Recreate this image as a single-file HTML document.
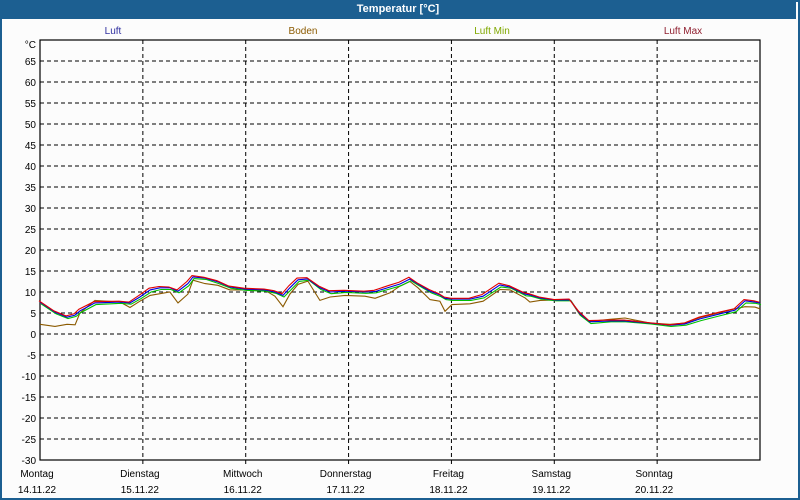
<!DOCTYPE html>
<html><head><meta charset="utf-8"><style>
body{margin:0;width:800px;height:500px;overflow:hidden;background:#fff;font-family:"Liberation Sans",sans-serif}
#wrap{position:absolute;left:0;top:0;width:796px;height:496px;border:2px solid #1c5f91;background:#fcfcfc}
#title{position:absolute;left:0;top:0;width:796px;height:19px;background:#1c5f91;color:#fff;font-weight:bold;font-size:11px;text-align:center;line-height:18px}
svg{position:absolute;left:0;top:0}
text{font-size:10px;font-family:"Liberation Sans",sans-serif}
</style></head><body>
<div id="wrap"></div>
<div id="title">Temperatur [°C]</div>
<svg id="chart" width="800" height="500"></svg>
<script>
const hours=[0,3.5,6.3,8.2,9.3,12.8,18.7,21,23.3,25.7,28,30.3,32.2,34.5,35.7,38.5,41.5,44.3,47.8,52.5,54.8,56.7,58.3,60.2,62.5,65.3,67.7,71.2,75.8,78.2,81.7,84,86.3,88.2,91,93.3,94.5,96.1,100.3,103.4,107.3,109.7,113.2,114.3,116.7,120.2,123.7,126,128.3,133,136.5,142.3,147,150.5,154,158.7,162.2,164.5,166.8,168];
const luft=[7.6,5.2,4.0,4.5,5.5,7.4,7.6,7.4,8.8,10.5,11,11,10.2,12,13.6,13.3,12.4,11.2,10.7,10.5,10,9.2,11,12.9,13.1,11,10,10.2,10,10.1,11.2,11.9,13.1,11.9,10.2,9.3,8.5,8.3,8.3,9.0,11.7,11.2,9.5,9.3,8.6,8.1,8.1,4.8,2.9,3.1,3.1,2.6,2.1,2.4,3.6,4.8,5.7,7.9,7.6,7.4];
const boden=[2.3,1.8,2.3,2.2,5.0,8.0,7.6,6.3,7.8,9.2,9.6,10,7.4,9.5,12.8,12,11.6,10.5,10.5,10.4,9,6.5,9.5,11.8,12.6,8,8.8,9.2,9.0,8.5,9.8,11.4,12.5,11,8.2,7.8,5.4,7.0,7.2,7.8,10.6,10.5,8.6,7.6,8.0,8.1,8.1,4.5,3.0,3.5,3.8,2.6,2.3,2.6,3.9,5.1,6.0,6.5,6.4,6.0];
const luftMin=[7.2,4.8,3.7,4.2,5.1,7.0,7.3,7.1,8.4,10.0,10.6,10.6,9.8,11.5,13.2,13.0,12.0,10.9,10.4,10.2,9.7,8.8,10.5,12.5,12.8,10.6,9.6,9.9,9.7,9.8,10.8,11.5,12.7,11.5,9.8,8.9,8.2,8.0,8.0,8.6,11.2,10.9,9.1,9.0,8.3,7.9,7.9,4.3,2.5,2.9,2.9,2.4,1.8,2.1,3.2,4.4,5.3,7.4,7.3,7.0];
const luftMax=[7.9,5.5,4.3,4.8,5.9,7.7,7.8,7.6,9.2,10.9,11.3,11.2,10.5,12.5,13.9,13.5,12.7,11.4,10.9,10.7,10.3,9.6,11.5,13.3,13.4,11.4,10.3,10.4,10.2,10.4,11.6,12.3,13.5,12.2,10.6,9.6,8.8,8.5,8.5,9.4,12.1,11.5,9.8,9.6,8.8,8.2,8.3,5.3,3.2,3.3,3.3,2.7,2.2,2.6,4.0,5.2,6.0,8.2,7.9,7.6];
const yTicks=[65,60,55,50,45,40,35,30,25,20,15,10,5,0,-5,-10,-15,-20,-25,-30];
const dayNames=["Montag","Dienstag","Mittwoch","Donnerstag","Freitag","Samstag","Sonntag"];
const dayDates=["14.11.22","15.11.22","16.11.22","17.11.22","18.11.22","19.11.22","20.11.22"];
const L=40,R=760,T=40,B=460,yMin=-30,yMax=70,hMax=168;
const xs=h=>L+(R-L)*h/hMax, ys=v=>B-(B-T)*(v-yMin)/(yMax-yMin);
const svg=document.getElementById('chart');const NS='http://www.w3.org/2000/svg';
function mk(t,a,txt){const e=document.createElementNS(NS,t);for(const k in a)e.setAttribute(k,a[k]);if(txt!=null)e.textContent=txt;svg.appendChild(e);return e;}
yTicks.forEach(v=>{const y=ys(v);
const g=mk('line',{x1:L,x2:R,y1:y,y2:y,stroke:'#000','stroke-dasharray':'4,3','stroke-width':1});


const t=mk('text',{x:36,y:y+4,'text-anchor':'end',fill:'#000'},String(v));

});
const u=mk('text',{x:36,y:48,'text-anchor':'end',fill:'#000'},'°C');


dayNames.forEach((d,i)=>{const x=xs(i*24);
if(i>0){const g=mk('line',{x1:x,x2:x,y1:T,y2:B+6,stroke:'#000','stroke-dasharray':'4,3'});

}
const t=mk('text',{x:x-3,y:477,'text-anchor':'middle',fill:'#000'},d);


const t2=mk('text',{x:x-3,y:493,'text-anchor':'middle',fill:'#000'},dayDates[i]);

});
const fr=mk('rect',{x:L,y:T,width:R-L,height:B-T,fill:'none',stroke:'#000','stroke-width':1.2});


function line(vals,color,name,dx){const d=vals.map((v,i)=>(i?'L':'M')+(xs(hours[i])+dx).toFixed(1)+','+ys(v).toFixed(1)).join('');
const p=mk('path',{d:d,fill:'none',stroke:color,'stroke-width':1.1});

}
line(boden,'#8b5a00','series-boden',0);
line(luftMin,'#00c000','series-luft-min',1);
line(luft,'#0000e0','series-luft',0);
line(luftMax,'#e00000','series-luft-max',-1);
const leg=[['Luft','#3030a0',113],['Boden','#8b5a00',303],['Luft Min','#80a800',492],['Luft Max','#902030',683]];
leg.forEach(l=>{const t=mk('text',{x:l[2],y:34,'text-anchor':'middle',fill:l[1]},l[0]);

});
</script>
</body></html>
